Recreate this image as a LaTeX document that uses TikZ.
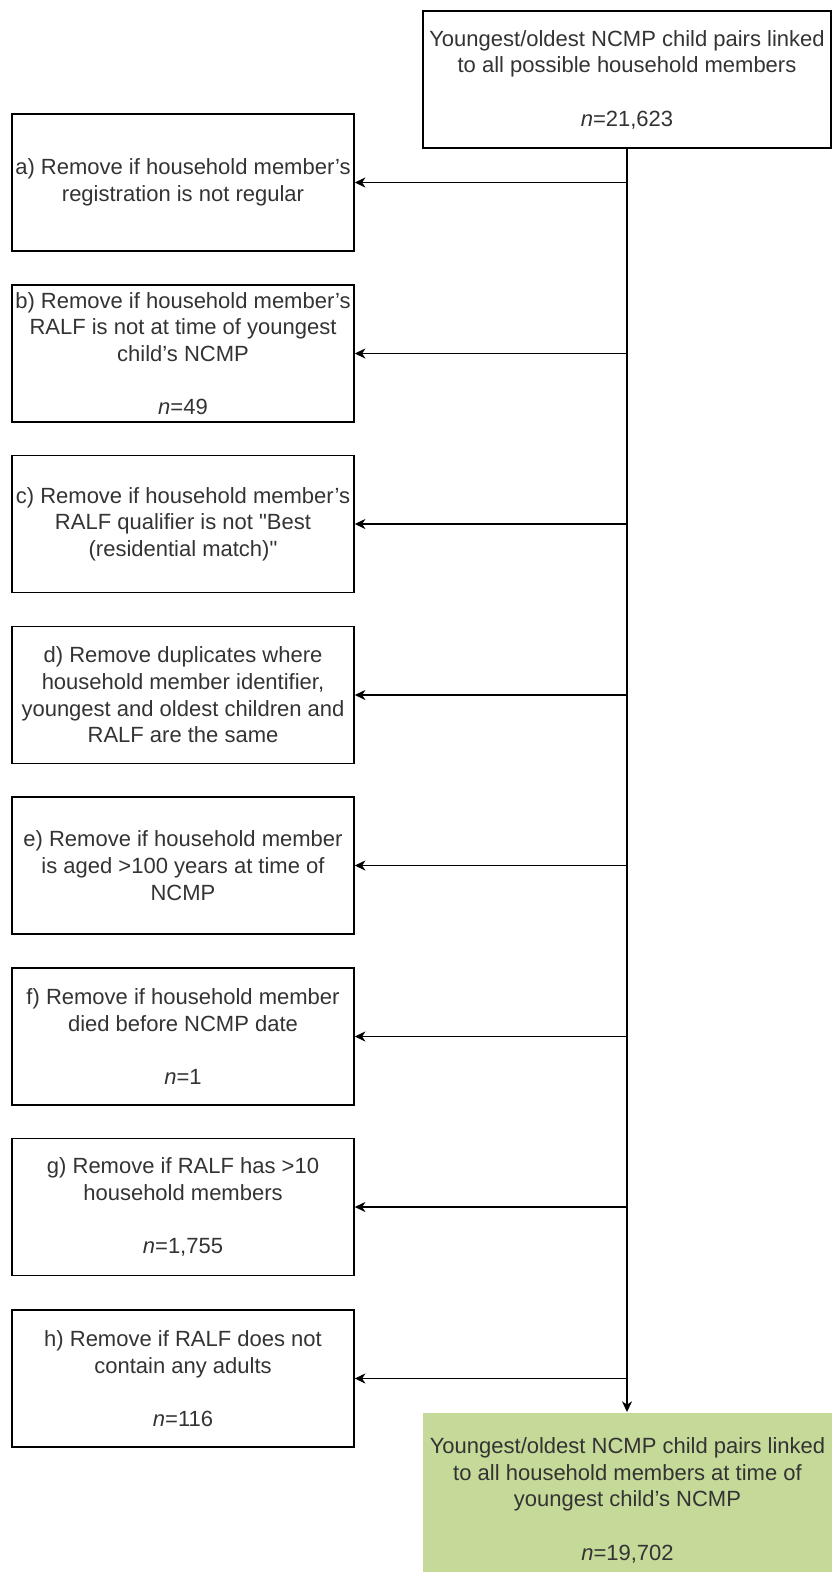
\documentclass[tikz,border=0pt]{standalone}
\usepackage{fontspec}
\setmainfont{Liberation Sans}
\usetikzlibrary{arrows.meta}
\definecolor{keptgreen}{RGB}{197,217,153}
\tikzset{
  stage/.style={draw=black, line width=1.1pt, align=center, inner sep=1pt, text=black!80,
    font=\fontsize{16.5}{20}\selectfont},
  dropbox/.style={stage, minimum width=256.5pt, minimum height=102.75pt},
  flow/.style={-{Stealth[length=8pt,width=7.5pt,inset=2.5pt]}, line width=1.1pt}
}
\begin{document}
\begin{tikzpicture}[x=0.75pt, y=-0.75pt]
\useasboundingbox (0,0) rectangle (832,1572);
\node[stage, minimum width=306pt, minimum height=102.75pt] (start) at (627,79.5)
  {Youngest/oldest NCMP child pairs linked\\to all possible household members\\[20pt]\textit{n}=21,623};
\node[dropbox] (a) at (183,182.5) {a) Remove if household member's\\registration is not regular};
\node[dropbox] (b) at (183,353.5) {b) Remove if household member's\\RALF is not at time of youngest\\child's NCMP\\[20pt]\textit{n}=49};
\node[dropbox] (c) at (183,524) {c) Remove if household member's\\RALF qualifier is not \textquotedbl Best\\(residential match)\textquotedbl};
\node[dropbox] (d) at (183,695) {d) Remove duplicates where\\household member identifier,\\youngest and oldest children and\\RALF are the same};
\node[dropbox] (e) at (183,865.5) {e) Remove if household member\\is aged >100 years at time of\\NCMP};
\node[dropbox] (f) at (183,1036.5) {f) Remove if household member\\died before NCMP date\\[20pt]\textit{n}=1};
\node[dropbox] (g) at (183,1207) {g) Remove if RALF has >10\\household members\\[20pt]\textit{n}=1,755};
\node[dropbox] (h) at (183,1378.5) {h) Remove if RALF does not\\contain any adults\\[20pt]\textit{n}=116};
\node[stage, draw=none, fill=keptgreen, anchor=north, minimum width=306.75pt, minimum height=131.25pt] (final) at (627.5,1412)
  {Youngest/oldest NCMP child pairs linked\\to all household members at time of\\youngest child's NCMP\\[20pt]\textit{n}=19,702};
\draw[flow] (start.south) -- (start.south |- final.north);
\foreach \k in {a,...,h}
  \draw[flow] (start.south |- \k.east) -- (\k.east);
\end{tikzpicture}
\end{document}
